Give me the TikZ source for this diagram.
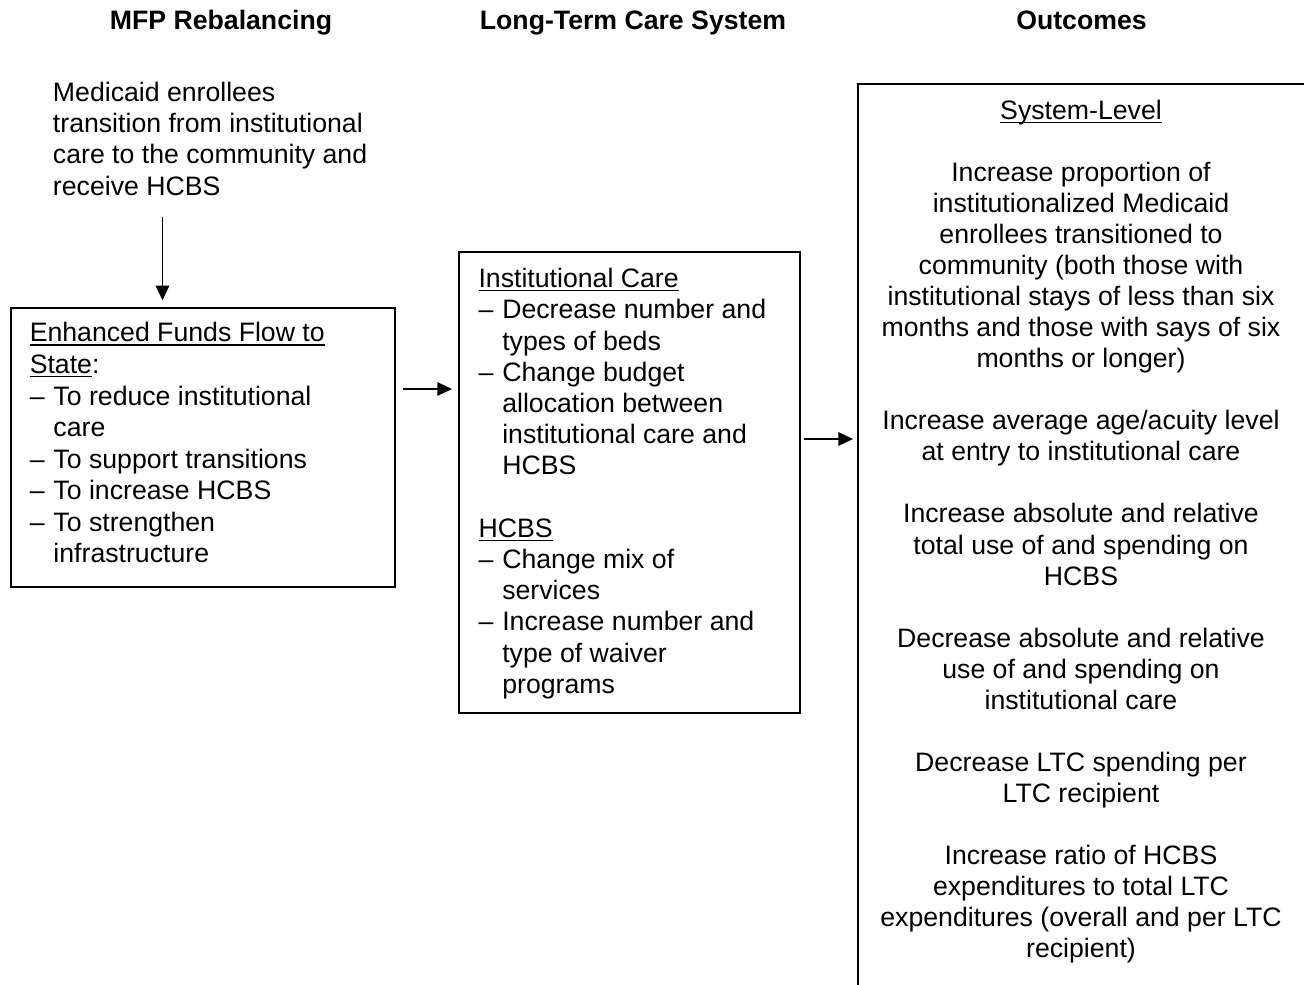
\documentclass[tikz,border=0pt]{standalone}
\usepackage{fontspec}
\setmainfont{Liberation Sans}
\usetikzlibrary{arrows.meta}
\newsavebox\ulbox
\newcommand\ulx[1]{\sbox\ulbox{#1}\rlap{\rule[-2.8pt]{\wd\ulbox}{1pt}}\usebox\ulbox}
\newcommand\dsh{\makebox[17.8pt][l]{–}}
\newcommand\ind{\hspace*{17.8pt}}
\newcommand\hs{\rule{0pt}{15pt}}
\tikzset{
  txt/.style={inner sep=0pt, font=\fontsize{20pt}{23.4pt}\selectfont},
  ttl/.style={inner sep=0pt, font=\fontsize{20pt}{23.4pt}\selectfont\bfseries, anchor=base},
  boxx/.style={draw, line width=1.4pt, inner sep=0pt, anchor=north west},
  arr/.style={line width=1.4pt, -{Triangle[length=11pt,width=10pt]}}
}
\begin{document}
\begin{tikzpicture}[x=0.75pt,y=-0.75pt]
\useasboundingbox (0,0) rectangle (1304,985);
\clip (0,0) rectangle (1304,985);
% titles
\node[ttl] (t1) at (221,29.3) {MFP Rebalancing};
\node[ttl] (t2) at (633,29.3) {Long-Term Care System};
\node[ttl] (t3) at (1081.5,29.3) {Outcomes};
% boxes
\node[boxx, minimum width=288pt, minimum height=209.5pt] (lbox) at (9.7,307) {};
\node[boxx, minimum width=255.5pt, minimum height=346pt] (mbox) at (458.3,251) {};
\node[boxx, minimum width=360pt, minimum height=700pt] (rbox) at (856.7,83.3) {};
% texts
\node[txt, anchor=north west, align=left] (med) at (52.7,81.2)
 {\hs Medicaid enrollees\\transition from institutional\\care to the community and\\receive HCBS};
\node[txt, anchor=north west, align=left, font=\fontsize{20pt}{23.65pt}\selectfont] (ltxt) at (29.5,321.7)
 {\hs\ulx{Enhanced Funds Flow to}\\\ulx{State}:\\
  \dsh To reduce institutional\\\ind care\\
  \dsh To support transitions\\
  \dsh To increase HCBS\\
  \dsh To strengthen\\\ind infrastructure};
\node[txt, anchor=north west, align=left] (mtxt) at (478.3,267.4)
 {\hs\ulx{Institutional Care}\\
  \dsh Decrease number and\\\ind types of beds\\
  \dsh Change budget\\\ind allocation between\\\ind institutional care and\\\ind HCBS\\[23.4pt]
  \ulx{HCBS}\\
  \dsh Change mix of\\\ind services\\
  \dsh Increase number and\\\ind type of waiver\\\ind programs};
\node[txt, anchor=north, align=center, font=\fontsize{20pt}{23.28pt}\selectfont] (rtxt) at (1081,99.2)
 {\hs\ulx{System-Level}\\[23.28pt]
  Increase proportion of\\institutionalized Medicaid\\enrollees transitioned to\\community (both those with\\institutional stays of less than six\\months and those with says of six\\months or longer)\\[23.28pt]
  Increase average age/acuity level\\at entry to institutional care\\[23.28pt]
  Increase absolute and relative\\total use of and spending on\\HCBS\\[23.28pt]
  Decrease absolute and relative\\use of and spending on\\institutional care\\[23.28pt]
  Decrease LTC spending per\\LTC recipient\\[23.28pt]
  Increase ratio of HCBS\\expenditures to total LTC\\expenditures (overall and per LTC\\recipient)};
% connectors
\coordinate (a1s) at (162.5,216.7);
\draw[arr, shorten >=5pt] (a1s) -- (a1s |- lbox.north);
\coordinate (a2y) at (0,389);
\draw[arr, shorten <=5.8pt, shorten >=4.7pt] (lbox.east |- a2y) -- (mbox.west |- a2y);
\coordinate (a3y) at (0,439);
\draw[arr, shorten <=2.5pt, shorten >=2.7pt] (mbox.east |- a3y) -- (rbox.west |- a3y);
\end{tikzpicture}
\end{document}
